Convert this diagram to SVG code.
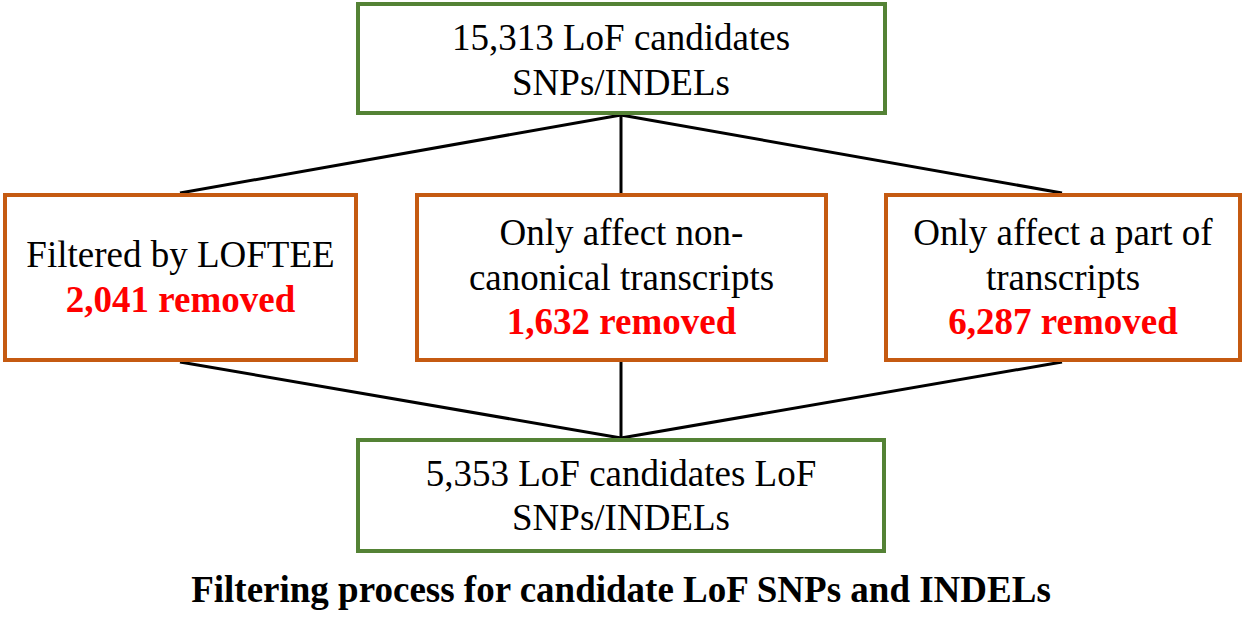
<svg xmlns="http://www.w3.org/2000/svg" width="1247" height="636" viewBox="0 0 1247 636">
<style>
.box{fill:#fff;stroke-width:4}
.g{stroke:#548235}
.o{stroke:#C55A11}
.t{font-size:37px;fill:#000;text-anchor:middle}
.r{font-weight:bold;fill:#FF0000}
.cap{font-weight:bold}
.c{stroke:#000;stroke-width:3;fill:none}
</style>
<rect width="1247" height="636" fill="#fff"/>
<g id="connectors">
<line class="c" x1="621" y1="115" x2="180" y2="193"/>
<line class="c" x1="621" y1="115" x2="621" y2="193"/>
<line class="c" x1="621" y1="115" x2="1062" y2="193"/>
<line class="c" x1="180" y1="362" x2="621" y2="438"/>
<line class="c" x1="621" y1="362" x2="621" y2="438"/>
<line class="c" x1="1062" y1="362" x2="621" y2="438"/>
</g>
<g font-family="Liberation Serif, Times New Roman, serif">
<g id="top">
<rect class="box g" x="358" y="4" width="527" height="109"/>
<text class="t" x="621" y="50">15,313 LoF candidates</text>
<text class="t" x="621" y="95">SNPs/INDELs</text>
</g>
<g id="loftee">
<rect class="box o" x="5" y="195" width="351" height="165"/>
<text class="t" x="180.5" y="267">Filtered by LOFTEE</text>
<text class="t r" x="180.5" y="312">2,041 removed</text>
</g>
<g id="noncanonical">
<rect class="box o" x="417" y="195" width="409" height="165"/>
<text class="t" x="621.5" y="245">Only affect non-</text>
<text class="t" x="621.5" y="290">canonical transcripts</text>
<text class="t r" x="621.5" y="334">1,632 removed</text>
</g>
<g id="partial">
<rect class="box o" x="886" y="195" width="354" height="165"/>
<text class="t" x="1063" y="245">Only affect a part of</text>
<text class="t" x="1063" y="290">transcripts</text>
<text class="t r" x="1063" y="334">6,287 removed</text>
</g>
<g id="bottom">
<rect class="box g" x="358" y="440" width="526" height="111"/>
<text class="t" x="621" y="486">5,353 LoF candidates LoF</text>
<text class="t" x="621" y="530">SNPs/INDELs</text>
</g>
<text class="t cap" x="621" y="602">Filtering process for candidate LoF SNPs and INDELs</text>
</g>
</svg>
